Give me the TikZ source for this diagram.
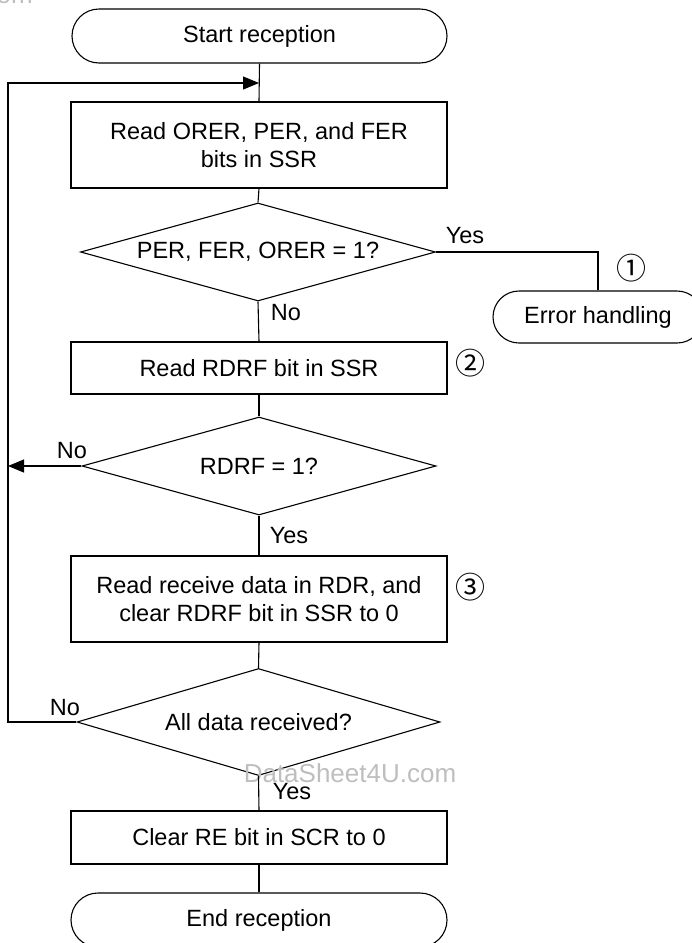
\documentclass[tikz,border=0pt]{standalone}
\usepackage{fontspec}
\setmainfont{Liberation Sans}
\newfontfamily\symfont{Noto Sans CJK SC}
\usetikzlibrary{shapes.geometric,arrows.meta}
\definecolor{wmgrey}{RGB}{190,190,190}
\tikzset{
  txt/.style={font=\fontsize{23.5}{28}\selectfont},
  procbox/.style={draw, line width=1.1pt, rectangle, minimum width=376pt, inner sep=0pt, align=center, txt},
  termbox/.style={draw, line width=1.1pt, rectangle, rounded corners=26.5pt, minimum height=53pt, inner sep=0pt, align=center, txt},
  decbox/.style={draw, line width=1.1pt, diamond, aspect=3.6, inner sep=0pt, align=center, txt},
  conn/.style={line width=1.1pt},
  arr/.style={line width=1.1pt, -{Triangle[length=16pt,width=13pt]}},
  lbl/.style={txt, inner sep=0pt},
  circnum/.style={font=\symfont\fontsize{30}{33}\selectfont, inner sep=0pt},
  wmark/.style={text=wmgrey, font=\fontsize{26}{30}\selectfont, inner sep=0pt}
}
\begin{document}
\begin{tikzpicture}[x=1pt,y=-1pt]
\path[use as bounding box] (0,0) rectangle (692,943);
\clip (0,0) rectangle (692,943);

% nodes
\node[termbox, minimum width=375pt, minimum height=54pt, rounded corners=27pt] (start) at (259.5,36) {Start reception};
\node[procbox, minimum height=86pt] (b1) at (259,145) {Read ORER, PER, and FER\\bits in SSR};
\node[decbox, minimum width=355pt, minimum height=98pt] (d1) at (258,252) {PER, FER, ORER = 1?};
\node[termbox, minimum width=210pt, minimum height=52pt, rounded corners=26pt] (err) at (598,317) {Error handling};
\node[procbox, minimum height=52pt] (b2) at (259,368) {Read RDRF bit in SSR};
\node[decbox, minimum width=354pt, minimum height=98pt] (d2) at (259,466) {RDRF = 1?};
\node[procbox, minimum height=86pt] (b3) at (259,599) {Read receive data in RDR, and\\clear RDRF bit in SSR to 0};
\node[decbox, minimum width=363pt, minimum height=107pt] (d3) at (258.5,722) {All data received?};
\node[procbox, minimum height=53pt] (b4) at (259,837.5) {Clear RE bit in SCR to 0};
\node[termbox, minimum width=376pt, minimum height=54pt, rounded corners=27pt] (end) at (259,920) {End reception};

% labels
\node[lbl] (yes1) at (465,236) {Yes};
\node[lbl] (no1) at (286,313) {No};
\node[lbl] (no2) at (72,451) {No};
\node[lbl] (yes2) at (289,536) {Yes};
\node[lbl] (no3) at (65,708) {No};
\node[lbl] (yes3) at (292,792) {Yes};
\node[circnum] (c1) at (631,268) {①};
\node[circnum] (c2) at (470,363) {②};
\node[circnum] (c3) at (470,587) {③};

% watermark
\node[wmark] (wm) at (350,773) {DataSheet4U.com};
\node[wmark, anchor=base east] (wmtop) at (33,3) {DataSheet4U.com};

% loop coordinates
\coordinate (lbot) at (8,722);
\coordinate (ltop) at (8,83);
\coordinate (merge) at (259,83);

% connectors
\draw[conn] (start.south) -- (b1.north);
\draw[conn] (b1.south) -- (d1.north);
\draw[conn] (d1.south) -- (b2.north);
\draw[conn] (d1.east) -| (err.north);
\draw[conn] (b2.south) -- (d2.north);
\draw[conn] (d2.south) -- (b3.north);
\draw[conn] (b3.south) -- (d3.north);
\draw[conn] (d3.south) -- (b4.north);
\draw[conn] (b4.south) -- (end.north);
\draw[arr] (d2.west) -- (d2.west -| lbot);
\draw[arr] (d3.west) -- (lbot) -- (ltop) -- (merge);
\end{tikzpicture}
\end{document}
